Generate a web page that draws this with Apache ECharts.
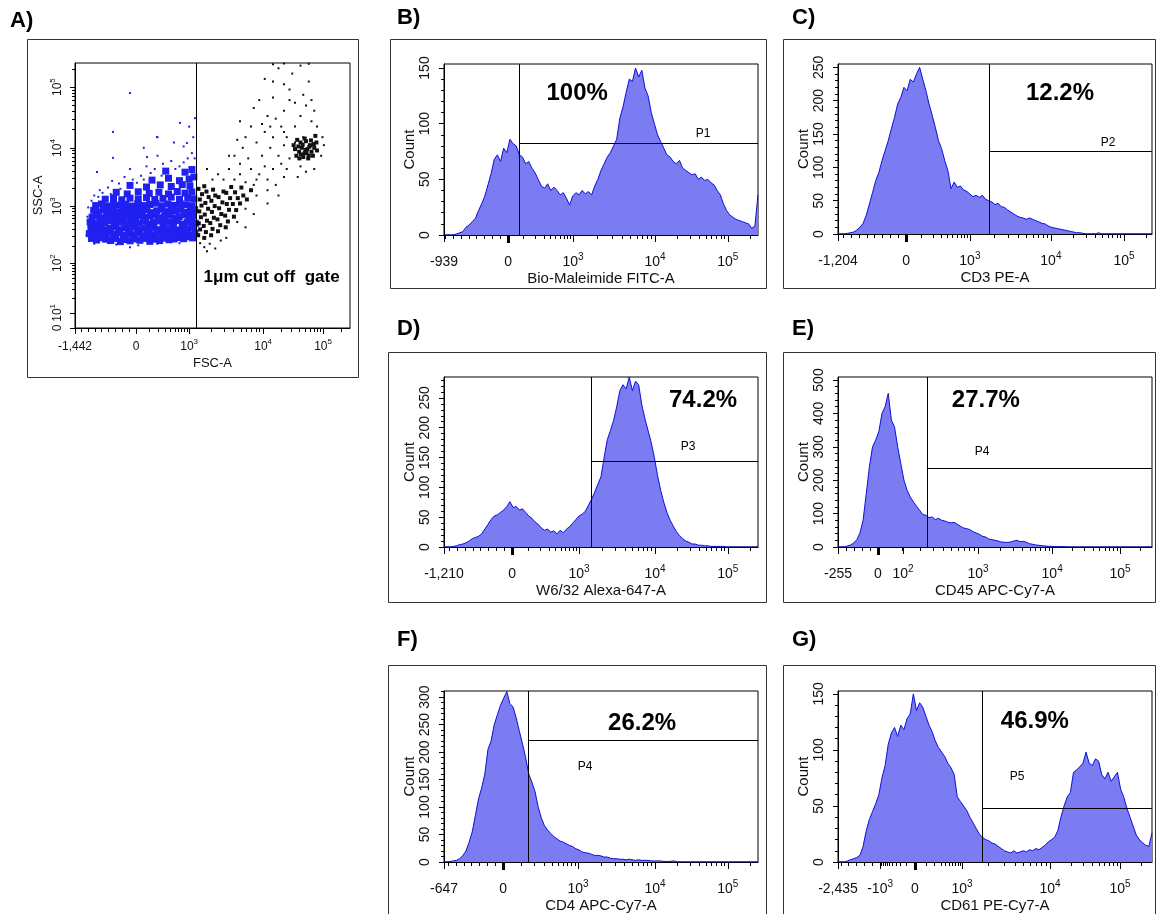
<!DOCTYPE html>
<html><head><meta charset="utf-8">
<script src="https://cdn.jsdelivr.net/npm/echarts@6/dist/echarts.min.js"></script>
<style>html,body{margin:0;padding:0;background:#fff}#c{width:1157px;height:914px}</style>
</head><body><div id="c"></div>
<script>
// ---------------- DATA ----------------
// histogram bins: channel = index * BIN (channel scale 0..1000 on each display axis)
const BIN = 10;

// Panel A (FSC-A vs SSC-A), channel units 0..1000 on both axes
const aXTickPos = [0, 222, 415, 684, 902];
const aXTickLab = ['-1,442', '0', '10^3', '10^4', '10^5'];
const aYTickPos = [0, 57, 245, 460, 679, 909];
const aYTickLab = ['0', '10^1', '10^2', '10^3', '10^4', '10^5'];
const aGateX = 440;
const aGateText = ['1\u03bcm cut off  gate', 715, 192];
const aBlueCore = [
 [60,338],[78,332],[95,340],[112,335],[130,330],[148,338],[165,326],[182,334],[200,329],[218,336],[236,331],[255,338],[272,327],[290,335],[308,330],[325,339],[342,333],[360,336],[378,341],[395,337],[412,344],[428,340],
 [52,356],[70,352],[88,360],[105,350],[122,358],[140,353],[158,361],[175,349],[193,357],[210,352],[228,360],[246,348],[263,356],[280,351],[298,359],[316,354],[333,350],[351,358],[369,353],[386,361],[404,355],[421,350],[436,358],
 [58,378],[76,372],[94,380],[111,370],[129,376],[147,382],[164,371],[182,379],[199,374],[217,381],[235,369],[252,377],[270,373],[287,380],[305,371],[322,378],[340,374],[358,382],[375,370],[393,377],[410,373],[428,380],
 [55,400],[73,394],[90,402],[108,396],[126,404],[143,392],[161,399],[179,405],[196,393],[214,401],[232,395],[249,403],[267,391],[284,398],[302,404],[320,394],[337,400],[355,396],[372,405],[390,392],[408,399],[425,403],[438,395],
 [62,418],[80,424],[98,416],[115,422],[133,427],[150,415],[168,421],[186,426],[203,414],[221,420],[239,425],[256,417],[274,423],[291,428],[309,416],[326,421],[344,426],[362,414],[379,420],[397,427],[414,418],[431,423],
 [68,444],[86,438],[104,446],[121,440],[139,448],[157,436],[174,443],[192,449],[209,437],[227,444],[245,440],[262,447],[280,435],[297,442],[315,448],[332,439],[350,445],[368,441],[385,449],[403,436],[420,443],[435,447],
 [75,462],[96,468],[118,460],[140,470],[162,463],[184,467],[206,460],[228,469],[250,462],[272,466],[294,471],[316,461],[338,468],[360,463],[382,470],[404,465],[426,461],
 [110,486],[140,491],[170,484],[200,490],[230,487],[260,492],[290,485],[320,489],[350,494],[380,486],[410,491],[432,487],
 [150,512],[190,506],[230,514],[270,508],[305,512],[340,506],[372,515],[400,509],[425,513],
 [200,538],[260,532],[310,540],[350,534],[390,541],[418,536],
 [280,558],[340,565],[380,556],[415,562],[432,570],
 [330,592],[400,588],[425,598]
];
const aBlueSparse = [
 [45,420],[50,380],[48,455],[42,350],[85,495],[60,480],[100,510],[120,530],[135,555],[90,520],[160,545],[180,570],[210,560],[240,575],
 [200,600],[260,610],[290,600],[320,620],[350,630],[300,650],[380,610],[410,640],[425,660],[395,685],[360,700],[300,720],[250,680],[430,720],[415,760],
 [200,887],[138,740],[138,642],[80,589],[298,721],[382,774],[436,792],[262,645],[407,698],
 [70,318],[150,315],[230,312],[300,318],[380,320],[200,305],[120,322],[165,525],[225,548],[275,585],[315,575],[365,600],[395,625],[435,640],[250,560],[130,505],[70,500]
];
const aBlackCore = [
 [448,350],[455,372],[450,395],[458,418],[452,440],[460,462],[454,485],[462,505],[449,525],
 [470,340],[476,362],[468,385],[480,405],[472,428],[484,450],[474,472],[486,494],[478,515],[470,535],
 [495,350],[500,374],[492,396],[505,416],[498,438],[508,460],[496,480],[510,500],[502,522],
 [520,365],[528,388],[518,410],[532,430],[524,452],[536,474],[522,494],[540,515],
 [548,380],[556,402],[546,424],[560,446],[552,468],[564,490],[550,510],[568,532],
 [578,420],[586,445],[574,468],[592,490],[582,512],[600,470],[612,500],[605,530],[625,485],[640,520],
 [805,650],[815,665],[825,680],[835,660],[845,675],[855,690],[820,700],[840,705],[830,645],[850,650],[860,665],[870,680],[812,685],[828,692],
 [842,660],[858,708],[865,650],[878,700],[800,675],[835,715],[848,640],[822,655],[838,672],[852,684],[868,694],[816,640],[880,670],[795,690],[808,710],[874,725]
];
const aBlackSparse = [
 [455,320],[470,305],[490,318],[510,300],[530,330],[480,290],[550,340],
 [620,550],[650,540],[670,580],[700,560],[640,600],[690,610],[720,600],[750,620],[680,650],[710,680],[740,650],[760,690],[780,640],[660,700],
 [630,640],[600,580],[580,560],[720,720],[690,740],[750,760],[770,720],[800,760],[640,760],[610,680],[560,600],[580,650],[620,720],[700,800],
 [760,820],[800,850],[830,880],[780,900],[720,870],[850,930],[690,940],[740,980],[820,990],[600,780],[650,830],[790,960],[870,820],[880,760],
 [860,780],[900,720],[905,690],[895,650],[870,600],[840,590],[820,610],[810,570],[760,570],[730,540],[660,500],[700,520],[740,500],[620,450],
 [650,430],[700,470],[590,400],[620,380],[540,560],[520,580],[500,560],[480,600],[600,620],[660,560],[770,600],[680,770],[730,790],[800,700],
 [830,720],[760,740],[710,760],[590,710],[560,650],[820,800],[840,840],[860,860],[780,860],[670,860],[720,930],[760,920],[720,995],[760,998],[850,997]
];

// Panel B
const histB = [0,0,0,0,1,2,3,7,9,12, 15,22,28,35,45,55,68,72,66,78, 74,86,82,80,72,70,64,66,60,56,
 50,44,42,46,40,43,40,36,38,33, 27,35,38,36,40,37,39,36,44,50, 58,64,70,74,80,86,105,115,128,140,
 138,150,142,148,132,125,110,100,90,84, 78,72,70,66,64,67,60,58,56,54, 55,50,52,49,50,47,45,40,36,28,
 22,18,16,14,13,12,11,10,6,8, 36];
const bTickPos = [0, 204, 411, 672, 904];
const bTickLab = ['-939', '0', '10^3', '10^4', '10^5'];
const gateB = [239, 82];
const pctB = ['100%', 424, 127.5];
const popB = ['P1', 825, 91];

// Panel C
const histC = [0,0,0,1,2,3,6,10,16,28, 45,62,80,92,110,125,140,158,175,195, 205,220,215,232,228,240,250,232,215,195,
 178,160,140,128,110,95,68,78,70,72, 66,64,60,56,58,55,58,52,50,48, 44,46,41,40,36,33,30,27,25,24,
 22,24,22,20,18,16,15,12,10,9, 8,7,6,5,4,3,2,2,1,0, 0,0,0,2,0,0,0,0,0,0,
 0,0,0,0,0,0,0,0,0,0, 0];
const cTickPos = [0, 217, 420, 678, 911];
const cTickLab = ['-1,204', '0', '10^3', '10^4', '10^5'];
const gateC = [481, 124.5];
const pctC = ['12.2%', 707, 211.5];
const popC = ['P2', 860, 136.5];

// Panel D
const histD = [0,0,0,1,2,4,5,7,10,14, 16,18,22,30,38,46,52,54,58,62, 68,76,66,68,62,64,58,52,48,42,
 38,32,28,30,25,27,22,28,24,30, 34,40,46,52,55,60,70,80,92,105, 118,150,180,195,212,235,262,272,265,285,
 262,278,272,238,215,195,175,150,120,95, 75,58,45,35,26,19,14,10,8,5, 5,3,3,2,2,1,1,1,1,1,
 0,0,0,0,0,0,0,0,0,0, 0];
const dTickPos = [0, 217, 430, 672, 904];
const dTickLab = ['-1,210', '0', '10^3', '10^4', '10^5'];
const gateD = [468, 144];
const pctD = ['74.2%', 825, 246];
const popD = ['P3', 777, 168];

// Panel E
const histE = [0,0,0,3,6,12,22,42,80,160, 240,300,320,345,400,420,460,380,360,300, 250,200,170,150,135,122,110,97,95,88,
 90,82,86,80,78,74,72,74,68,62, 57,55,52,46,42,38,32,30,24,22, 20,18,15,14,14,15,18,20,16,17,
 14,10,8,6,5,4,3,2,2,1, 1,1,1,0,0,0,0,0,0,0, 0,0,0,0,0,0,0,0,0,0,
 0,0,0,0,0,0,0,0,0,0, 0];
const eTickPos = [0, 127, 207, 446, 682, 898];
const eTickLab = ['-255', '0', '10^2', '10^3', '10^4', '10^5'];
const gateE = [283, 236.5];
const pctE = ['27.7%', 471, 440];
const popE = ['P4', 459, 284];

// Panel F
const histF = [0,0,1,2,3,6,12,20,36,55, 85,115,135,160,205,220,250,268,285,298, 310,288,282,262,238,215,190,160,145,128,
 100,80,66,58,52,46,42,38,36,33, 30,28,24,22,18,17,16,14,12,12, 11,9,9,7,6,6,5,5,4,5,
 4,3,4,3,3,3,2,2,2,2, 1,1,1,2,1,0,0,0,0,0, 0,0,0,0,0,0,0,0,0,0,
 0,0,0,0,0,0,0,0,0,0, 0];
const fTickPos = [0, 188, 427, 672, 904];
const fTickLab = ['-647', '0', '10^3', '10^4', '10^5'];
const gateF = [268, 222];
const pctF = ['26.2%', 631, 253];
const popF = ['P4', 449, 173];

// Panel G
const histG = [0,0,0,1,2,3,4,6,14,28, 38,45,52,60,75,86,105,115,120,112, 122,118,128,132,150,135,142,138,130,122,
 116,108,102,98,94,88,84,78,58,54, 50,46,40,35,30,25,22,20,19,17, 16,14,12,10,9,8,10,8,9,10,
 9,11,10,12,11,13,15,18,20,22, 28,40,50,58,62,80,82,85,88,98, 88,86,92,90,78,74,80,72,76,80,
 65,58,48,40,32,24,20,17,15,14, 26];
const gTickPos = [0, 134, 245, 395, 675, 898];
const gTickLab = ['-2,435', '-10^3', '0', '10^3', '10^4', '10^5'];
const gateG = [459, 48];
const pctG = ['46.9%', 627, 125];
const popG = ['P5', 570, 76];

// ---------------- LAYOUT / STYLE ----------------
const FF = '"Liberation Sans", Arial, Helvetica, sans-serif';
const FILL = '#7b7bf2', EDGE = '#0f0fd6', BLUE = '#2020f0';

const panels = [
  {hist: histB, pos: bTickPos, lab: bTickLab, gate: gateB, pct: pctB, pop: popB, yMax: 153.6, yStep: 50, yMinor: 10, xName: 'Bio-Maleimide FITC-A', g: {left: 444, top: 64, width: 314, height: 171}},
  {hist: histC, pos: cTickPos, lab: cTickLab, gate: gateC, pct: pctC, pop: popC, yMax: 255, yStep: 50, yMinor: 10, xName: 'CD3 PE-A', g: {left: 838, top: 64, width: 314, height: 170}},
  {hist: histD, pos: dTickPos, lab: dTickLab, gate: gateD, pct: pctD, pop: popD, yMax: 285, yStep: 50, yMinor: 10, xName: 'W6/32 Alexa-647-A', g: {left: 444, top: 377, width: 314, height: 170}},
  {hist: histE, pos: eTickPos, lab: eTickLab, gate: gateE, pct: pctE, pop: popE, yMax: 509, yStep: 100, yMinor: 20, xName: 'CD45 APC-Cy7-A', g: {left: 838, top: 377, width: 314, height: 170}},
  {hist: histF, pos: fTickPos, lab: fTickLab, gate: gateF, pct: pctF, pop: popF, yMax: 311, yStep: 50, yMinor: 10, xName: 'CD4 APC-Cy7-A', g: {left: 444, top: 691, width: 314, height: 171}},
  {hist: histG, pos: gTickPos, lab: gTickLab, gate: gateG, pct: pctG, pop: popG, yMax: 152.5, yStep: 50, yMinor: 10, xName: 'CD61 PE-Cy7-A', g: {left: 838, top: 691, width: 314, height: 171}}
];
const boxes = [[27,39,331,338],[390,39,376,249],[783,39,372,249],[388,352,378,250],[783,352,372,250],[388,665,378,260],[783,665,372,260]];
const letters = [['A)',10,10],['B)',397,7],['C)',792,7],['D)',397,318],['E)',792,318],['F)',397,629],['G)',792,629]];

function richFor(size) {
  return {
    b: {fontSize: size, fontFamily: FF, color: '#111', lineHeight: size + 6},
    s: {fontSize: size - 4, fontFamily: FF, color: '#111', lineHeight: size - 4, verticalAlign: 'top'}
  };
}
function fmtTick(t) {
  const m = t.match(/^(-?10)\^(\d)$/);
  return m ? '{b|' + m[1] + '}{s|' + m[2] + '}' : '{b|' + t + '}';
}
function labelFn(pos, lab) { return v => { const i = pos.findIndex(p => Math.abs(p - v) < 0.01); return i < 0 ? '' : fmtTick(lab[i]); }; }

function minorX(pos, lab) {
  const at = l => pos[lab.indexOf(l)];
  const z = at('0'), p3 = at('10^3'), p4 = at('10^4'), p5 = at('10^5');
  const fr = [0.24, 0.42, 0.55, 0.65, 0.73, 0.8, 0.86, 0.91, 0.96];
  const out = [];
  fr.forEach(f => out.push(z + (p3 - z) * f));
  let negEnd = z;
  if (lab.includes('-10^3')) { const m3 = at('-10^3'); fr.forEach(f => out.push(z - (z - m3) * f)); negEnd = m3; }
  for (let v = negEnd - 25; v > 3; v -= 25) out.push(v);
  [[p3, p4], [p4, p5], [p5, p5 + (p5 - p4)]].forEach(([a, b]) => {
    for (let m = 2; m <= 9; m++) { const v = a + (b - a) * Math.log10(m); if (v < 997) out.push(v); }
  });
  return out.filter(v => !pos.some(p => Math.abs(p - v) < 1.5));
}
function minorLogY(pos) {
  const out = [];
  for (let i = 1; i < pos.length; i++) {
    const a = pos[i], b = i + 1 < pos.length ? pos[i + 1] : pos[i] + (pos[i] - pos[i - 1]);
    for (let m = 2; m <= 9; m++) { const v = a + (b - a) * Math.log10(m); if (v < 997) out.push(v); }
  }
  return out;
}
function steps(max, step) { const o = []; for (let v = 0; v <= max + 1e-9; v += step) o.push(v); return o; }

const option = {animation: false, backgroundColor: '#fff', grid: [], xAxis: [], yAxis: [], series: [], graphic: []};

function addGrid(g, show) {
  option.grid.push({left: g.left, top: g.top, width: g.width, height: g.height, show: !!show, borderColor: '#000', borderWidth: 1, backgroundColor: 'transparent'});
  return option.grid.length - 1;
}
function hiddenAxis(gi, max) { return {type: 'value', gridIndex: gi, min: 0, max: max, show: false}; }

function mainAxes(gi, xPos, xLab, xName, yPos, yLab, yMax, fs, opts) {
  const xi = option.xAxis.length, yi = option.yAxis.length;
  option.xAxis.push({
    type: 'value', gridIndex: gi, min: 0, max: 1000,
    axisLine: {show: true, lineStyle: {color: '#000', width: 1}},
    axisTick: {show: true, customValues: xPos, length: opts.xTickLen, lineStyle: {color: '#000'}},
    axisLabel: {show: true, customValues: xPos, formatter: labelFn(xPos, xLab), rich: richFor(fs), margin: opts.xMargin},
    splitLine: {show: false},
    name: xName, nameLocation: 'middle', nameGap: opts.xNameGap,
    nameTextStyle: {fontSize: fs + 1, fontFamily: FF, color: '#111'}
  });
  option.yAxis.push({
    type: 'value', gridIndex: gi, min: 0, max: yMax,
    axisLine: {show: true, lineStyle: {color: '#000', width: 1}},
    axisTick: {show: true, customValues: yPos, length: 5, lineStyle: {color: '#000'}},
    axisLabel: {show: true, customValues: yPos, formatter: labelFn(yPos, yLab), rich: richFor(fs), rotate: 90, margin: opts.yMargin},
    splitLine: {show: false},
    name: opts.yName, nameLocation: 'middle', nameGap: opts.yNameGap, nameRotate: 90,
    nameTextStyle: {fontSize: fs + 1, fontFamily: FF, color: '#111'}
  });
  return [xi, yi];
}
function minorAxes(g, xMinor, yMinor, yMax) {
  const gi = addGrid(g, false);
  option.xAxis.push({type: 'value', gridIndex: gi, min: 0, max: 1000, axisLine: {show: false}, axisLabel: {show: false}, splitLine: {show: false},
    axisTick: {show: true, customValues: xMinor, length: 4, lineStyle: {color: '#000'}}});
  option.yAxis.push({type: 'value', gridIndex: gi, min: 0, max: yMax, axisLine: {show: false}, axisLabel: {show: false}, splitLine: {show: false},
    axisTick: {show: yMinor.length > 0, customValues: yMinor, length: 3, lineStyle: {color: '#000'}}});
}
function zeroTick(g, z, yMax) {
  const gi = addGrid(g, false);
  option.xAxis.push({type: 'value', gridIndex: gi, min: 0, max: 1000, axisLine: {show: false}, axisLabel: {show: false}, splitLine: {show: false},
    axisTick: {show: true, customValues: [z], length: 8, lineStyle: {color: '#000', width: 3}}});
  option.yAxis.push(hiddenAxis(gi, yMax));
}
function textItem(t, size, bold) {
  return {value: [t[1], t[2]], label: {show: true, position: 'inside', formatter: t[0], fontSize: size, fontWeight: bold ? 'bold' : 'normal',
    fontFamily: FF, color: '#000', opacity: 1, textBorderWidth: 0}};
}
const gateLine = {color: '#000', width: 1, type: 'solid', opacity: 1};

// ---- Panel A ----
(function () {
  const g = {left: 75, top: 63, width: 275, height: 265};
  const gi = addGrid(g, true);
  const [xi, yi] = mainAxes(gi, aXTickPos, aXTickLab, 'FSC-A', aYTickPos, aYTickLab, 1000, 12,
    {xTickLen: 6, xMargin: 10, xNameGap: 29, yMargin: 8, yName: 'SSC-A', yNameGap: 30});
  minorAxes(g, minorX(aXTickPos, aXTickLab), minorLogY(aYTickPos), 1000);
  const base = {type: 'scatter', xAxisIndex: xi, yAxisIndex: yi, silent: true, symbol: 'rect'};
  option.series.push(Object.assign({}, base, {data: aBlueCore, symbolSize: 7, itemStyle: {color: BLUE, opacity: 1}}));
  option.series.push(Object.assign({}, base, {data: aBlueSparse, symbolSize: 2, itemStyle: {color: BLUE, opacity: 1}}));
  option.series.push(Object.assign({}, base, {data: aBlackCore, symbolSize: 4, itemStyle: {color: '#111', opacity: 1}}));
  option.series.push(Object.assign({}, base, {data: aBlackSparse, symbolSize: 2, itemStyle: {color: '#111', opacity: 1},
    markLine: {silent: true, symbol: ['none', 'none'], label: {show: false}, lineStyle: gateLine,
      data: [[{coord: [aGateX, 0]}, {coord: [aGateX, 1000]}]]}}));
  option.series.push(Object.assign({}, base, {symbolSize: 0, itemStyle: {opacity: 1}, data: [textItem(aGateText, 17, true)]}));
})();

// ---- Histogram panels ----
panels.forEach(p => {
  const gi = addGrid(p.g, true);
  const yMajor = steps(p.yMax, p.yStep);
  const yLab = yMajor.map(v => String(v));
  const yMinorVals = steps(p.yMax, p.yMinor).filter(v => v % p.yStep !== 0);
  const [xi, yi] = mainAxes(gi, p.pos, p.lab, p.xName, yMajor, yLab, p.yMax, 14,
    {xTickLen: 7, xMargin: 17, xNameGap: 36, yMargin: 9, yName: 'Count', yNameGap: 26});
  minorAxes(p.g, minorX(p.pos, p.lab), yMinorVals, p.yMax);
  zeroTick(p.g, p.pos[p.lab.indexOf('0')], p.yMax);
  const [gx, gy] = p.gate;
  option.series.push({
    type: 'line', xAxisIndex: xi, yAxisIndex: yi, silent: true, symbol: 'none',
    data: p.hist.map((c, i) => [i * BIN, c]),
    lineStyle: {color: EDGE, width: 1}, areaStyle: {color: FILL, opacity: 1},
    markLine: {silent: true, symbol: ['none', 'none'], label: {show: false}, lineStyle: gateLine,
      data: [[{coord: [gx, 0]}, {coord: [gx, p.yMax]}], [{coord: [gx, gy]}, {coord: [1000, gy]}]]}
  });
  option.series.push({type: 'scatter', xAxisIndex: xi, yAxisIndex: yi, silent: true, symbolSize: 0, itemStyle: {opacity: 1},
    data: [textItem(p.pct, 24, true), textItem(p.pop, 12, false)]});
});

// ---- frames and panel letters ----
boxes.forEach(b => option.graphic.push({type: 'rect', silent: true, z: -10,
  shape: {x: b[0] + 0.5, y: b[1] + 0.5, width: b[2], height: b[3]}, style: {fill: 'none', stroke: '#333', lineWidth: 1}}));
letters.forEach(l => option.graphic.push({type: 'text', silent: true, left: l[1], top: l[2],
  style: {text: l[0], fontSize: 22, fontWeight: 'bold', fontFamily: FF, fill: '#000'}}));

const chart = echarts.init(document.getElementById('c'), null, {renderer: 'canvas'});
chart.setOption(option);
</script></body></html>
